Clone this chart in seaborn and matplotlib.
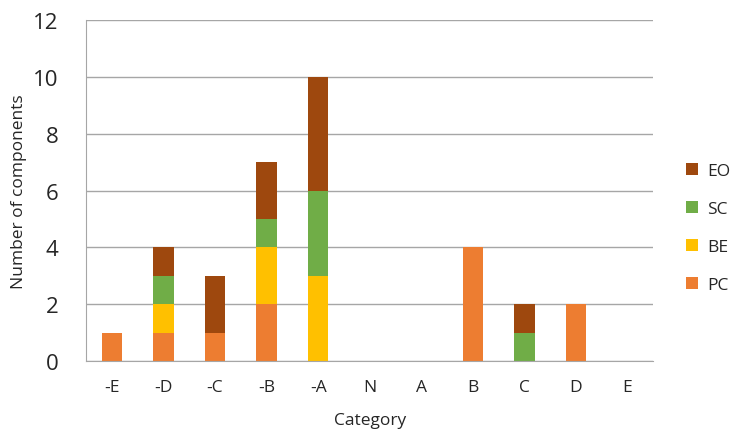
import matplotlib
matplotlib.use('Agg')
import matplotlib.pyplot as plt
import seaborn as sns
import numpy as np
import pandas as pd

categories = ['-E', '-D', '-C', '-B', '-A', 'N', 'A', 'B', 'C', 'D', 'E']
pc = [1, 1, 1, 2, 0, 0, 0, 4, 0, 2, 0]
be = [0, 1, 0, 2, 3, 0, 0, 0, 0, 0, 0]
sc = [0, 1, 0, 1, 3, 0, 0, 0, 1, 0, 0]
eo = [0, 1, 2, 2, 4, 0, 0, 0, 1, 0, 0]

series = [('PC', pc, '#ED7D31'), ('BE', be, '#FFC000'),
          ('SC', sc, '#70AD47'), ('EO', eo, '#9E480E')]


def main():
    sns.set_style('white')
    plt.rcParams['font.family'] = ['Open Sans', 'DejaVu Sans']

    fig = plt.figure(figsize=(7.3, 4.31), dpi=100)
    ax = fig.add_axes([0.118, 0.160, 0.777, 0.791])

    # barres empilées
    bottom = np.zeros(len(categories))
    for name, vals, color in series:
        df = pd.DataFrame({'cat': categories, 'val': vals})
        sns.barplot(data=df, x='cat', y='val', order=categories, color=color,
                    width=0.4, bottom=bottom, ax=ax, saturation=1, label=name,
                    linewidth=0)
        bottom = bottom + np.array(vals)

    ax.set_ylim(0, 12)
    ax.set_xlim(-0.5, len(categories) - 0.5)
    ax.set_yticks(range(0, 13, 2))
    ax.yaxis.grid(True, color='#A6A6A6', linewidth=1)
    ax.set_axisbelow(True)
    for s in ['top', 'right']:
        ax.spines[s].set_visible(False)
    ax.spines['left'].set_color('#A6A6A6')
    ax.spines['bottom'].set_color('#A6A6A6')

    ax.set_xticks(np.arange(-0.5, len(categories), 1), minor=True)
    ax.tick_params(axis='x', which='minor', length=6, color='#A6A6A6', width=1)
    ax.tick_params(axis='x', which='major', length=0, labelsize=12.5, pad=13)
    ax.tick_params(axis='y', length=8, color='#A6A6A6', width=1,
                   labelsize=16, pad=12)

    ax.set_xlabel('Category', fontsize=12.5, labelpad=12)
    ax.set_ylabel('Number of components', fontsize=12.5, labelpad=4)

    h, l = ax.get_legend_handles_labels()
    ax.legend(h[::-1], l[::-1], loc='center left', bbox_to_anchor=(1.03, 0.39),
              frameon=False, fontsize=12.5, handlelength=0.7, handleheight=0.7,
              labelspacing=1.25, handletextpad=0.5)

    fig.savefig('out.png', dpi=100)
    return 0


if __name__ == '__main__':
    main()
